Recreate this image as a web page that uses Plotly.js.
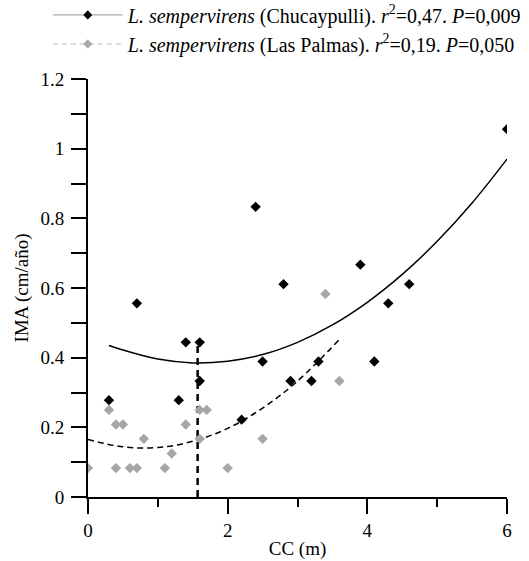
<!DOCTYPE html>
<html>
<head>
<meta charset="utf-8">
<script src="https://cdn.plot.ly/plotly-3.0.1.min.js"></script>
<style>html,body{margin:0;padding:0;background:#fff}#chart{width:529px;height:561px}</style>
</head>
<body>
<div id="chart"></div>
<script>
// Chucaypulli observations
const chucX = [0.3, 0.7, 1.3, 1.4, 1.6, 1.6, 2.2, 2.4, 2.5, 2.8, 2.9, 3.2, 3.3, 3.9, 4.1, 4.3, 4.6, 6.0];
const chucY = [0.278, 0.556, 0.278, 0.444, 0.444, 0.333, 0.222, 0.833, 0.389, 0.611, 0.333, 0.333, 0.389, 0.667, 0.389, 0.556, 0.611, 1.056];
// Las Palmas observations
const palX = [0.0, 0.3, 0.4, 0.4, 0.5, 0.6, 0.7, 0.8, 1.1, 1.2, 1.4, 1.6, 1.6, 1.7, 2.0, 2.5, 3.4, 3.6];
const palY = [0.083, 0.250, 0.208, 0.083, 0.208, 0.083, 0.083, 0.167, 0.083, 0.125, 0.208, 0.250, 0.167, 0.250, 0.083, 0.167, 0.583, 0.333];
// fitted curves
const fitChucX = [0.3, 0.5, 1.0, 1.5, 2.0, 2.5, 3.0, 3.5, 4.0, 4.5, 5.0, 5.5, 6.0];
const fitChucY = [0.435, 0.422, 0.396, 0.385, 0.390, 0.409, 0.444, 0.494, 0.559, 0.639, 0.734, 0.844, 0.970];
const fitPalX = [0.0, 0.5, 1.0, 1.5, 2.0, 2.5, 3.0, 3.6];
const fitPalY = [0.165, 0.144, 0.142, 0.160, 0.197, 0.255, 0.333, 0.452];
// vertical reference line
const refX = [1.57, 1.57];
const refY = [0, 0.44];

const legendNames = [
  '<i>L. sempervirens</i> (Chucaypulli). <i>r</i><sup>2</sup>=0,47. <i>P</i>=0,009',
  '<i>L. sempervirens</i> (Las Palmas). <i>r</i><sup>2</sup>=0,19. <i>P</i>=0,050'
];
const xTitle = 'CC (m)';
const yTitle = 'IMA (cm/año)';

const font = 'Liberation Serif, Times New Roman, serif';

const traces = [
  {x: fitChucX, y: fitChucY, mode: 'lines', line: {color: '#000', width: 1.5, shape: 'spline'}, showlegend: false, hoverinfo: 'skip'},
  {x: fitPalX, y: fitPalY, mode: 'lines', line: {color: '#000', width: 1.5, dash: '6px,4px', shape: 'spline'}, showlegend: false, hoverinfo: 'skip'},
  {x: refX, y: refY, mode: 'lines', line: {color: '#000', width: 2.5, dash: '7px,5px'}, showlegend: false, hoverinfo: 'skip'},
  {x: palX, y: palY, mode: 'markers', marker: {symbol: 'diamond', size: 8, color: '#a6a6a6'}, showlegend: false},
  {x: chucX, y: chucY, mode: 'markers', marker: {symbol: 'diamond', size: 8, color: '#000'}, showlegend: false},
  {x: [null], y: [null], mode: 'lines+markers', name: legendNames[0], line: {color: '#999', width: 1}, marker: {symbol: 'diamond', size: 7, color: '#000'}},
  {x: [null], y: [null], mode: 'lines+markers', name: legendNames[1], line: {color: '#bbb', width: 1, dash: '5px,4px'}, marker: {symbol: 'diamond', size: 7, color: '#aaa'}}
];

const layout = {
  width: 529, height: 561,
  margin: {l: 88, r: 22, t: 79, b: 64, autoexpand: false},
  paper_bgcolor: '#fff', plot_bgcolor: '#fff',
  font: {family: font, size: 19, color: '#000'},
  showlegend: true,
  legend: {x: -0.096, y: 1.2, xanchor: 'left', yanchor: 'top', font: {family: font, size: 20, color: '#000'}, tracegroupgap: 0, bgcolor: 'rgba(0,0,0,0)', itemwidth: 70},
  xaxis: {
    range: [0, 6], dtick: 2, tick0: 0, ticks: 'outside', ticklen: 15, tickwidth: 2, tickcolor: '#000',
    showline: true, linecolor: '#000', linewidth: 2, showgrid: false, zeroline: false,
    minor: {dtick: 1, ticks: 'outside', ticklen: 8, tickwidth: 2, tickcolor: '#000', showgrid: false},
    tickfont: {family: font, size: 19}, title: {text: xTitle, font: {family: font, size: 19}, standoff: 2}
  },
  yaxis: {
    range: [0, 1.2], dtick: 0.2, tick0: 0, ticks: 'outside', ticklen: 15, tickwidth: 2, tickcolor: '#000',
    showline: true, linecolor: '#000', linewidth: 2, showgrid: false, zeroline: false, ticklabelstandoff: 3,
    minor: {dtick: 0.1, ticks: 'outside', ticklen: 15, tickwidth: 2, tickcolor: '#000', showgrid: false},
    tickfont: {family: font, size: 19}, title: {text: yTitle, font: {family: font, size: 19}, standoff: 7}
  }
};

Plotly.newPlot('chart', traces, layout, {displayModeBar: false, staticPlot: true});
</script>
</body>
</html>
